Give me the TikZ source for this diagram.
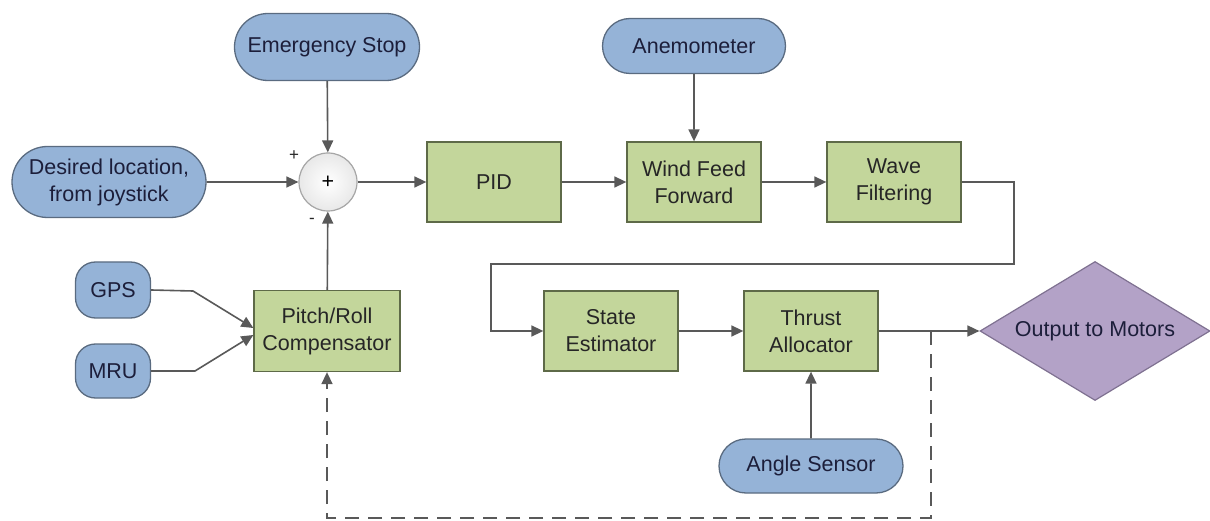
\documentclass[tikz,border=0pt]{standalone}
\usepackage{fontspec}
\setmainfont{Liberation Sans}
\usetikzlibrary{shapes.geometric, shapes.misc, arrows.meta, positioning}

\definecolor{termblue}{HTML}{95B3D7}
\definecolor{termedge}{HTML}{5A6B80}
\definecolor{blockgreen}{HTML}{C3D69B}
\definecolor{blockedge}{HTML}{5E6A48}
\definecolor{motorpurple}{HTML}{B3A2C7}
\definecolor{motoredge}{HTML}{7F7191}
\definecolor{wire}{HTML}{595959}
\definecolor{navytext}{HTML}{1C1E3A}

\begin{document}
\begin{tikzpicture}[
            x=1pt, y=-1pt,
            every node/.style={font=\fontsize{21.5}{27}\selectfont},
            termbox/.style={
                rounded rectangle, draw=termedge, fill=termblue,
                line width=1.3pt, text=navytext, align=center, inner sep=2pt
            },
            padbox/.style={
                rectangle, rounded corners=20pt, draw=termedge, fill=termblue,
                line width=1.3pt, text=navytext, minimum width=75pt, inner sep=2pt
            },
            blockbox/.style={
                rectangle, draw=blockedge, fill=blockgreen, line width=1.3pt,
                text=black!85, align=center,
                minimum width=134pt, minimum height=80pt
            },
            sumnode/.style={
                circle, draw=gray!70, line width=1.2pt, inner color=white,
                outer color=gray!18, minimum size=58pt, inner sep=0pt
            },
            motorbox/.style={
                diamond, aspect=1.65, draw=motoredge, fill=motorpurple,
                line width=1.2pt, text=navytext, inner sep=0pt,
                minimum width=230pt, minimum height=139pt
            },
            signlabel/.style={font=\fontsize{17}{17}\selectfont, text=black!85},
            flow/.style={draw=wire, line width=1.6pt, -{Triangle[length=12pt, width=11pt]}},
            feedback/.style={flow, dash pattern=on 14pt off 9pt}
        ]
            \useasboundingbox (0,0) rectangle (1210,521);

            % sources
            \node[termbox, minimum width=189pt, minimum height=67pt] (estop) at (327,47) {Emergency Stop};
            \node[termbox, minimum width=198pt, minimum height=71pt] (desired) at (109,182) {Desired location,\\from joystick};
            \node[termbox, minimum width=187pt, minimum height=55pt] (anemo) at (694,46) {Anemometer};
            \node[termbox, minimum width=188pt, minimum height=54pt] (angle) at (811,466) {Angle Sensor};
            \node[padbox, minimum height=56pt] (gps) at (113,290) {GPS};
            \node[padbox, minimum height=54pt] (mru) at (113,371) {MRU};

            % loop blocks
            \node[sumnode] (sum) at (328,182) {+};
            \node[blockbox] (pid) at (494,182) {PID};
            \node[blockbox] (wind) at (694,182) {Wind Feed\\Forward};
            \node[blockbox] (wave) at (894,182) {Wave\\Filtering};
            \node[blockbox] (state) at (611,331) {State\\Estimator};
            \node[blockbox] (thrust) at (811,331) {Thrust\\Allocator};
            \node[blockbox, minimum width=146pt, minimum height=81pt] (pitch) at (327,331) {Pitch/Roll\\Compensator};
            \node[motorbox] (motors) at (1095,331) {Output to Motors};

            \node[signlabel] (plus) at (294,156) {+};
            \node[signlabel] (minus) at (312,221) {-};

            \coordinate (turnR) at (1014,264);
            \coordinate (turnL) at (491,264);
            \coordinate (tap) at (931,331);
            \coordinate (dashR) at (931,518);
            \coordinate (gpsbend) at (193,291);
            \coordinate (mrubend) at (195,371);

            % connectors
            \draw[flow] (estop) -- (sum);
            \draw[flow] (desired) -- (sum);
            \draw[flow] (sum) -- (pid);
            \draw[flow] (pid) -- (wind);
            \draw[flow] (anemo) -- (wind);
            \draw[flow] (wind) -- (wave);
            \draw[flow] (wave.east) -| (turnR) -- (turnL) |- (state.west);
            \draw[flow] (state) -- (thrust);
            \draw[flow] (angle) -- (thrust);
            \draw[flow] (thrust.east) -- (motors.west);
            \draw[flow] (pitch) -- (sum);
            \draw[flow] (gps.east) -- (gpsbend) -- ([yshift=3pt]pitch.west);
            \draw[flow] (mru.east) -- (mrubend) -- ([yshift=-4pt]pitch.west);
            \draw[feedback] (tap) -- (dashR) -| (pitch.south);
        \end{tikzpicture}
\end{document}
